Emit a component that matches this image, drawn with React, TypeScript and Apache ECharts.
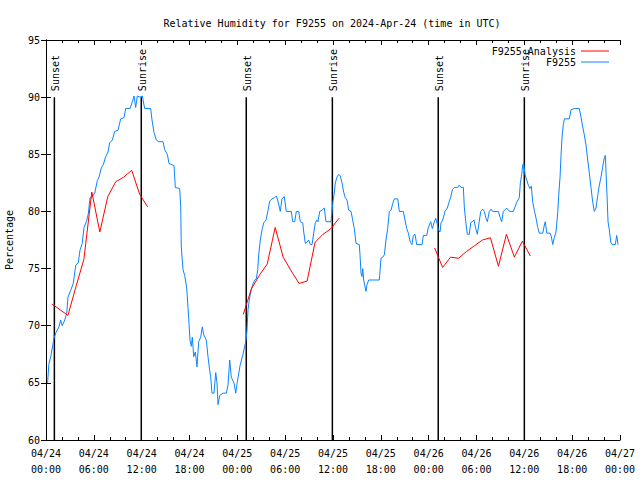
import React, { useEffect, useRef } from "react";
import * as echarts from "echarts";

// hours after 2024-04-24 00:00 UTC, relative humidity (%)
const stationReadings: [number, number][] = [
  [0.2, 65.0], [0.35, 66.6], [0.59, 67.3], [1.0, 68.9], [1.25, 69.4], [1.63, 69.9], [1.84, 70.5], [2.04, 70.0], [2.35, 70.5], [2.6, 71.1],
  [2.76, 72.5], [3.1, 73.1], [3.42, 73.7], [3.73, 75.3], [4.05, 75.5], [4.26, 76.6], [4.55, 77.2], [4.77, 78.6], [5.06, 79.1], [5.31, 79.8],
  [5.52, 81.2], [5.81, 81.3], [6.11, 81.6], [6.44, 82.7], [6.65, 83.0], [6.94, 83.8], [7.19, 84.1], [7.49, 84.8], [7.78, 85.2], [7.99, 86.0],
  [8.32, 86.25], [8.62, 87.0], [9.03, 87.1], [9.37, 88.1], [9.78, 88.2], [10.0, 89.0], [10.54, 89.0], [10.83, 89.6], [11.04, 90.1], [11.25, 89.1],
  [11.45, 90.1], [11.79, 90.0], [12.08, 90.1], [12.38, 89.0], [13.13, 89.0], [13.3, 88.0], [13.55, 86.9], [13.84, 86.25], [14.14, 86.1], [14.68, 86.1],
  [14.89, 85.4], [15.22, 85.0], [15.43, 84.2], [16.06, 84.0], [16.22, 82.1], [16.77, 82.0], [16.9, 80.4], [16.97, 76.9], [17.19, 74.9], [17.4, 74.4],
  [17.65, 73.3], [17.81, 71.6], [17.94, 70.2], [18.06, 68.75], [18.23, 68.2], [18.35, 69.0], [18.53, 67.3], [18.73, 67.7], [18.94, 66.4], [19.15, 68.6],
  [19.41, 69.0], [19.61, 69.9], [19.78, 69.2], [20.11, 68.75], [20.32, 67.3], [20.53, 66.1], [20.66, 65.5], [20.82, 64.1], [21.07, 64.1], [21.29, 65.9],
  [21.45, 65.0], [21.58, 63.1], [21.79, 63.9], [22.2, 64.1], [22.62, 64.1], [22.83, 64.8], [23.04, 67.0], [23.24, 65.5], [23.58, 65.0], [23.8, 64.1],
  [24.0, 65.1], [24.34, 66.5], [24.71, 67.5], [25.09, 68.75], [25.21, 69.6], [25.34, 71.4], [25.5, 72.25], [25.72, 73.1], [25.93, 73.6], [26.18, 74.0],
  [26.38, 74.1], [26.56, 74.9], [26.68, 76.2], [26.88, 77.5], [27.1, 78.4], [27.31, 79.0], [27.6, 79.25], [27.81, 79.95], [28.06, 80.9], [28.35, 81.1],
  [28.69, 81.2], [28.89, 81.35], [29.06, 81.0], [29.39, 80.0], [29.6, 81.1], [29.89, 81.3], [30.14, 80.0], [30.77, 80.0], [30.95, 79.1], [31.2, 79.1],
  [31.4, 80.0], [31.7, 80.0], [31.9, 79.1], [32.2, 79.0], [32.33, 78.2], [32.53, 77.2], [32.74, 77.3], [32.95, 77.5], [33.15, 77.1], [33.37, 77.1],
  [33.58, 78.1], [33.78, 79.0], [33.99, 79.25], [34.12, 79.1], [34.33, 80.0], [34.62, 80.1], [34.91, 80.3], [35.12, 79.1], [35.75, 79.1], [35.88, 80.0],
  [35.96, 80.7], [36.16, 81.6], [36.29, 82.5], [36.5, 83.0], [36.72, 83.25], [36.92, 83.1], [37.13, 82.5], [37.34, 81.7], [37.54, 81.2], [37.76, 81.0],
  [37.97, 80.1], [38.26, 80.0], [38.47, 79.25], [38.67, 78.5], [38.89, 77.2], [39.3, 77.1], [39.39, 76.2], [39.51, 74.6], [39.64, 74.3], [39.73, 75.0],
  [39.85, 74.0], [40.02, 73.4], [40.14, 73.0], [40.27, 73.6], [40.48, 74.0], [41.81, 74.0], [42.02, 75.9], [42.24, 76.0], [42.44, 76.2], [42.65, 77.5],
  [42.86, 78.5], [43.06, 80.0], [43.28, 80.1], [43.49, 80.7], [43.69, 81.1], [44.12, 81.1], [44.32, 80.0], [44.82, 80.0], [45.03, 79.25], [45.25, 78.5],
  [45.45, 78.1], [45.7, 77.3], [45.91, 77.1], [46.07, 77.9], [46.29, 78.0], [46.5, 77.1], [47.17, 77.1], [47.33, 77.9], [47.76, 77.9], [47.96, 78.6],
  [48.26, 79.1], [48.46, 78.5], [48.67, 79.0], [48.88, 79.4], [49.01, 79.1], [49.21, 78.4], [49.42, 78.2], [49.55, 79.0], [49.76, 79.25], [50.05, 80.0],
  [50.34, 80.3], [50.55, 80.8], [50.77, 81.25], [50.97, 81.9], [51.22, 82.1], [51.64, 82.1], [51.84, 82.3], [52.06, 82.1], [52.35, 82.1], [52.47, 80.4],
  [52.65, 79.1], [52.85, 78.0], [53.1, 78.0], [53.27, 79.0], [53.48, 79.1], [53.69, 79.25], [53.9, 78.5], [54.1, 78.0], [54.32, 79.0], [54.53, 80.0],
  [54.78, 80.2], [54.98, 80.0], [55.19, 79.4], [55.36, 79.1], [55.61, 80.0], [55.82, 80.2], [56.03, 80.0], [56.74, 80.0], [56.95, 79.5], [57.16, 79.1],
  [57.36, 80.0], [57.79, 80.3], [57.99, 80.1], [58.2, 80.0], [58.62, 80.0], [58.83, 80.4], [59.04, 80.8], [59.37, 81.2], [59.5, 82.5], [59.67, 83.2],
  [59.8, 84.1], [59.92, 84.2], [60.09, 83.2], [60.3, 82.75], [60.5, 82.3], [60.71, 82.0], [60.88, 82.2], [61.05, 80.8], [61.25, 80.1], [61.47, 79.4],
  [61.68, 78.6], [61.88, 78.1], [62.31, 78.1], [62.51, 78.8], [62.63, 79.1], [62.81, 78.1], [63.22, 78.1], [63.39, 77.8], [63.56, 77.1], [63.76, 77.7],
  [63.97, 78.2], [64.19, 79.9], [64.31, 81.4], [64.48, 83.0], [64.6, 84.9], [64.73, 86.5], [64.89, 87.6], [65.02, 88.1], [65.64, 88.1], [65.86, 88.9],
  [66.27, 89.0], [66.9, 89.0], [67.11, 88.25], [67.32, 87.4], [67.52, 86.7], [67.74, 85.8], [67.95, 84.5], [68.15, 83.4], [68.36, 82.1], [68.58, 80.8],
  [68.78, 80.0], [68.99, 80.3], [69.21, 81.4], [69.41, 82.3], [69.62, 83.0], [69.83, 83.9], [70.03, 84.7], [70.16, 84.9], [70.25, 83.4], [70.37, 81.4],
  [70.5, 79.1], [70.66, 78.4], [70.84, 77.3], [71.0, 77.1], [71.41, 77.1], [71.59, 77.9], [71.75, 77.1],
];

const analysisDay1: [number, number][] = [
  [0.75, 71.9], [1.75, 71.4], [2.75, 70.9], [3.75, 73.4], [4.75, 75.8], [5.75, 81.7], [6.75, 78.2],
  [7.75, 81.3], [8.75, 82.6], [9.75, 83.0], [10.75, 83.6], [11.75, 81.5], [12.75, 80.4],
];
const analysisDay2: [number, number][] = [
  [24.75, 71.0], [25.75, 73.2], [26.75, 74.4], [27.75, 75.4], [28.75, 78.6], [29.75, 76.0], [30.75, 74.8],
  [31.75, 73.7], [32.75, 73.9], [33.75, 77.3], [34.75, 78.0], [35.75, 78.5], [36.75, 79.4],
];
const analysisDay3: [number, number][] = [
  [48.75, 76.8], [49.75, 75.1], [50.75, 76.0], [51.75, 75.9], [52.75, 76.5], [53.75, 77.0], [54.75, 77.5],
  [55.75, 77.7], [56.75, 75.2], [57.75, 78.0], [58.75, 76.0], [59.75, 77.4], [60.75, 76.1],
];

const sunEventHours = [1.05, 11.95, 25.12, 35.92, 49.2, 60.0];
const sunEventLabels = ["Sunset", "Sunrise", "Sunset", "Sunrise", "Sunset", "Sunrise"];

const TITLE = "Relative Humidity for F9255 on 2024-Apr-24 (time in UTC)";
const FONT = '"DejaVu Sans Mono", "Liberation Mono", monospace';
const BLUE = "#0a84ff";
const RED = "#ff0000";

function xLabel(v: number): string {
  const day = 24 + Math.floor(v / 24);
  const hh = Math.round(v % 24);
  return `04/${day}\n${String(hh).padStart(2, "0")}:00`;
}

export default function App() {
  const ref = useRef<HTMLDivElement>(null);
  useEffect(() => {
    if (!ref.current) return;
    const chart = echarts.init(ref.current, null, { renderer: "svg" });
    const tickStyle = { show: true, inside: true, length: 5, lineStyle: { color: "#000", width: 1 } };
    const minorStyle = { show: true, length: 3, lineStyle: { color: "#000", width: 1 } };
    const axisLine = { show: true, lineStyle: { color: "#000", width: 1 } };
    const redSeries = [analysisDay1, analysisDay2, analysisDay3].map((seg) => ({
      name: "F9255 Analysis",
      type: "line",
      data: seg,
      showSymbol: false,
      symbol: "none",
      lineStyle: { color: RED, width: 1 },
      itemStyle: { color: RED },
      z: 4,
    }));
    const legendBase = {
      right: 31,
      align: "right",
      orient: "vertical",
      icon: "rect",
      itemWidth: 28,
      itemHeight: 1,
      padding: 0,
      textStyle: { fontFamily: FONT, fontSize: 10, color: "#000" },
    };
    chart.setOption({
      animation: false,
      backgroundColor: "#fff",
      title: {
        text: TITLE,
        left: 327,
        top: 13,
        textAlign: "center",
        textStyle: { fontFamily: FONT, fontSize: 10, fontWeight: "normal", color: "#000" },
      },
      legend: [
        { ...legendBase, data: ["F9255 Analysis"], top: 46 },
        { ...legendBase, data: ["F9255"], top: 57 },
      ],
      grid: { left: 46, right: 20, top: 40, bottom: 40, containLabel: false, outerBoundsMode: "none" },
      xAxis: [
        {
          type: "value",
          min: 0,
          max: 72,
          interval: 6,
          position: "bottom",
          axisLine,
          axisTick: tickStyle,
          minorTick: { ...minorStyle, splitNumber: 3 },
          splitLine: { show: false },
          axisLabel: {
            formatter: xLabel,
            fontFamily: FONT,
            fontSize: 10,
            color: "#000",
            lineHeight: 16,
            margin: 5,
          },
        },
        {
          type: "value",
          min: 0,
          max: 72,
          interval: 6,
          position: "top",
          axisLine,
          axisTick: tickStyle,
          minorTick: { ...minorStyle, splitNumber: 3 },
          splitLine: { show: false },
          axisLabel: { show: false },
        },
      ],
      yAxis: [
        {
          type: "value",
          min: 60,
          max: 95,
          interval: 5,
          position: "left",
          name: "Percentage",
          nameLocation: "middle",
          nameRotate: 90,
          nameGap: 32,
          nameTextStyle: { fontFamily: FONT, fontSize: 10, color: "#000" },
          axisLine,
          axisTick: tickStyle,
          splitLine: { show: false },
          axisLabel: { fontFamily: FONT, fontSize: 10, color: "#000", margin: 6 },
        },
        {
          type: "value",
          min: 60,
          max: 95,
          interval: 5,
          position: "right",
          axisLine,
          axisTick: tickStyle,
          splitLine: { show: false },
          axisLabel: { show: false },
        },
      ],
      series: [
        {
          type: "custom",
          name: "sun",
          silent: true,
          data: sunEventHours.map((h) => [h, 90]),
          z: 2,
          renderItem: (params: any, api: any) => {
            const h = api.value(0);
            const bottom = api.coord([h, 60]);
            const top = api.coord([h, 90]);
            return {
              type: "group",
              children: [
                {
                  type: "line",
                  shape: { x1: bottom[0], y1: bottom[1], x2: top[0], y2: top[1] },
                  style: { stroke: "#000", lineWidth: 1.5 },
                },
                {
                  type: "text",
                  x: top[0] + 1,
                  y: top[1] - 6,
                  rotation: Math.PI / 2,
                  style: {
                    text: sunEventLabels[params.dataIndex],
                    fill: "#000",
                    font: `10px ${FONT}`,
                    textAlign: "left",
                    textVerticalAlign: "middle",
                  },
                },
              ],
            };
          },
        },
        ...redSeries,
        {
          name: "F9255",
          type: "line",
          data: stationReadings,
          showSymbol: false,
          symbol: "none",
          lineStyle: { color: BLUE, width: 1 },
          itemStyle: { color: BLUE },
          z: 3,
        },
      ],
    });
    return () => chart.dispose();
  }, []);
  return (
    <div
      ref={ref}
      style={{ position: "absolute", left: 0, top: 0, width: 640, height: 480, background: "#fff" }}
    />
  );
}
